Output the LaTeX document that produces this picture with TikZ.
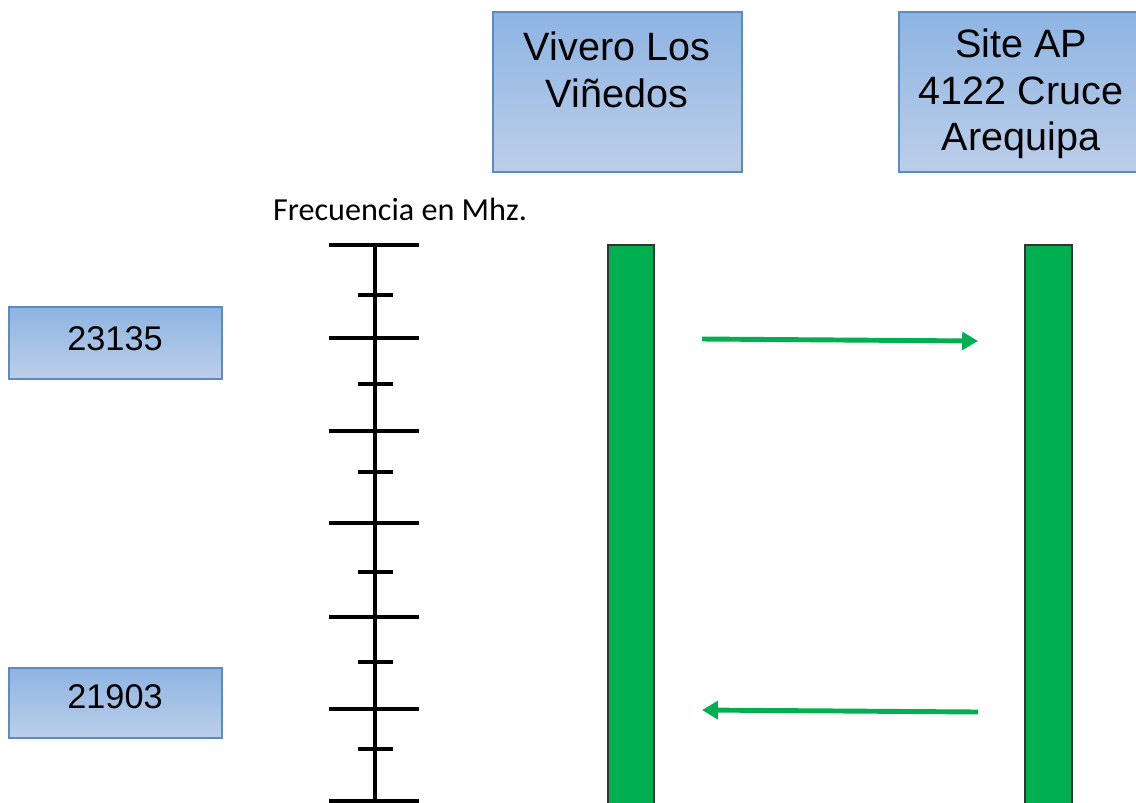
\documentclass[tikz,border=0pt]{standalone}
\usepackage{fontspec}
\setmainfont{Liberation Sans}
\newfontfamily\calibri{Carlito}
\usetikzlibrary{arrows.meta}
\definecolor{boxtop}{RGB}{141, 180, 226}
\definecolor{boxbot}{RGB}{188, 207, 233}
\definecolor{boxline}{RGB}{91, 138, 198}
\definecolor{bargreen}{RGB}{0, 176, 80}

\tikzset{
  sitebox/.style={shading=axis, top color=boxtop, bottom color=boxbot, draw=boxline, line width=0.9pt},
  sitelabel/.style={align=center, font=\fontsize{22.5}{26.5}\selectfont},
  freqlabel/.style={font=\fontsize{19.5}{23}\selectfont},
  tick/.style={line width=2.3pt},
  link/.style={bargreen, line width=2.8pt, -{Triangle[length=9pt, width=10pt]}}
}

\begin{document}
\begin{tikzpicture}[x=0.02cm, y=-0.02cm]
  \useasboundingbox (0, 0) rectangle (1136, 802);
  \clip (0, 0) rectangle (1136, 802);

  % sites
  \shadedraw[sitebox] (493, 12) rectangle (742, 172);
  \node[sitelabel] (vivero) at (617, 70) {Vivero Los\\Viñedos};

  \shadedraw[sitebox] (899, 12) rectangle (1143, 172);
  \node[sitelabel] (siteap) at (1021, 94) {Site AP\\4122 Cruce\\Arequipa};

  % frequencies
  \shadedraw[sitebox] (9, 307) rectangle (222, 379);
  \node[freqlabel] (f23135) at (115, 339) {23135};

  \shadedraw[sitebox] (9, 668) rectangle (222, 738);
  \node[freqlabel] (f21903) at (115, 697) {21903};

  \node[font=\calibri\fontsize{18.3}{21}\selectfont] (axislabel) at (400, 209) {Frecuencia en Mhz.};

  % scale
  \draw[tick] (375, 245) -- (375, 805);
  \foreach \y in {245, 338, 431, 523, 617, 709, 801} {
    \draw[tick] (329, \y) -- (419, \y);
  }
  \foreach \y in {295, 384, 472, 572, 662, 749} {
    \draw[tick] (358, \y) -- (393, \y);
  }

  % link bars
  \filldraw[fill=bargreen, draw=black!80, line width=0.6pt] (608, 245) rectangle (654, 810);
  \filldraw[fill=bargreen, draw=black!80, line width=0.6pt] (1025, 245) rectangle (1072, 810);

  \coordinate (upA) at (702, 339);
  \coordinate (upB) at (978, 341);
  \coordinate (downA) at (978, 712);
  \coordinate (downB) at (702, 710);
  \draw[link] (upA) -- (upB);
  \draw[link] (downA) -- (downB);

\end{tikzpicture}
\end{document}
